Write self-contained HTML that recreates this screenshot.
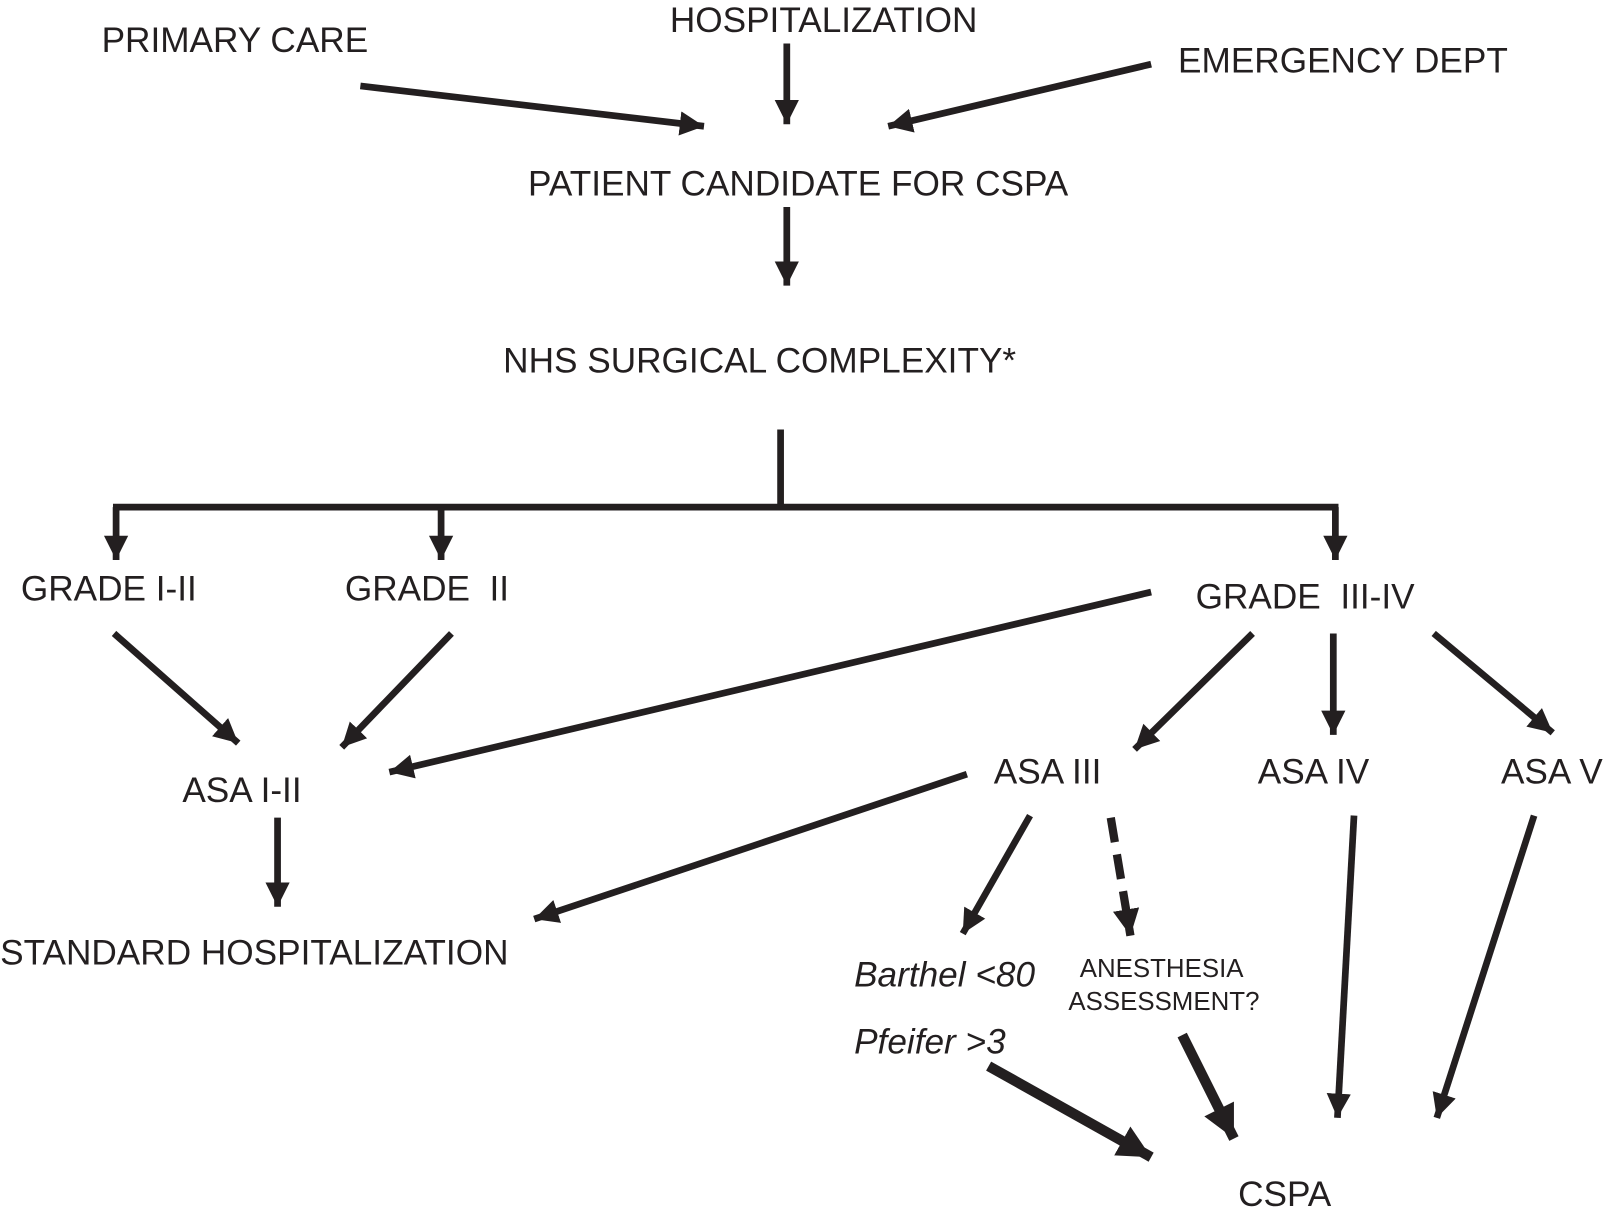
<!DOCTYPE html>
<html><head><meta charset="utf-8"><style>
html,body{margin:0;padding:0;background:#fff;}
svg{display:block;}
text{font-family:"Liberation Sans",Arial,sans-serif;fill:#231f20;}
</style></head><body>
<svg width="1615" height="1211" viewBox="0 0 1560 1170" xmlns="http://www.w3.org/2000/svg">
<defs>
<marker id="a" viewBox="0 0 10 10" refX="10" refY="5" markerWidth="3.6" markerHeight="3.8" orient="auto" markerUnits="strokeWidth"><path d="M0,0 L10,5 L0,10 z" fill="#231f20"/></marker>
<marker id="b" viewBox="0 0 10 10" refX="10" refY="5" markerWidth="3.2" markerHeight="3.2" orient="auto" markerUnits="strokeWidth"><path d="M0,0 L10,5 L0,10 z" fill="#231f20"/></marker>
</defs>
<g font-size="34">
<text x="98" y="50">PRIMARY CARE</text>
<text x="647" y="31">HOSPITALIZATION</text>
<text x="1138" y="70">EMERGENCY DEPT</text>
<text x="510" y="189">PATIENT CANDIDATE FOR CSPA</text>
<text x="486" y="360">NHS SURGICAL COMPLEXITY*</text>
<text x="20" y="580">GRADE I-II</text>
<text x="333" y="580" xml:space="preserve">GRADE  II</text>
<text x="1155" y="588" xml:space="preserve">GRADE  III-IV</text>
<text x="176" y="775">ASA I-II</text>
<text x="960" y="757">ASA III</text>
<text x="1215" y="757">ASA IV</text>
<text x="1450" y="757">ASA V</text>
<text x="0" y="932">STANDARD HOSPITALIZATION</text>
<text x="1196" y="1165">CSPA</text>
<text x="825" y="953" font-style="italic">Barthel &lt;80</text>
<text x="825" y="1018" font-style="italic">Pfeifer &gt;3</text>
</g>
<text x="1043" y="944" font-size="25">ANESTHESIA</text>
<text x="1032" y="976" font-size="25">ASSESSMENT?</text>
<g stroke="#231f20" stroke-width="6.5" fill="none">
<line x1="348" y1="83" x2="680" y2="122" marker-end="url(#a)"/>
<line x1="760" y1="42" x2="760" y2="120" marker-end="url(#a)"/>
<line x1="1112" y1="62" x2="858" y2="122" marker-end="url(#a)"/>
<line x1="760" y1="200" x2="760" y2="276" marker-end="url(#a)"/>
<line x1="754" y1="415" x2="754" y2="490"/>
<line x1="109" y1="490" x2="1293" y2="490"/>
<line x1="112" y1="490" x2="112" y2="541" marker-end="url(#a)"/>
<line x1="426" y1="490" x2="426" y2="541" marker-end="url(#a)"/>
<line x1="1290" y1="490" x2="1290" y2="541" marker-end="url(#a)"/>
<line x1="110" y1="612" x2="230" y2="718" marker-end="url(#a)"/>
<line x1="436" y1="612" x2="330" y2="722" marker-end="url(#a)"/>
<line x1="1112" y1="572" x2="376" y2="746" marker-end="url(#a)"/>
<line x1="1210" y1="612" x2="1096" y2="724" marker-end="url(#a)"/>
<line x1="1288" y1="612" x2="1288" y2="710" marker-end="url(#a)"/>
<line x1="1385" y1="612" x2="1500" y2="708" marker-end="url(#a)"/>
<line x1="268" y1="790" x2="268" y2="876" marker-end="url(#a)"/>
<line x1="934" y1="748" x2="516" y2="888" marker-end="url(#a)"/>
<line x1="995" y1="788" x2="930" y2="902" marker-end="url(#a)"/>
<line x1="1073" y1="790" x2="1092" y2="904" stroke-width="8" stroke-dasharray="24,12" marker-end="url(#b)"/>
<line x1="1308" y1="788" x2="1292" y2="1080" marker-end="url(#a)"/>
<line x1="1482" y1="788" x2="1388" y2="1080" marker-end="url(#a)"/>
<line x1="955" y1="1030" x2="1112" y2="1118" stroke-width="10" marker-end="url(#b)"/>
<line x1="1142" y1="1000" x2="1192" y2="1100" stroke-width="10" marker-end="url(#b)"/>
</g>
</svg>
</body></html>
